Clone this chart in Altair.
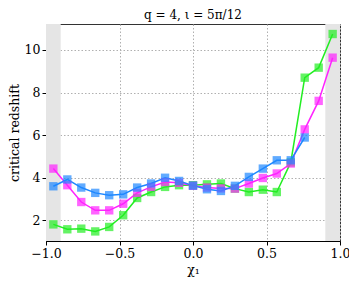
import altair as alt
import pandas as pd

chi = [round(-0.95 + 0.095 * k, 3) for k in range(21)]

blue = [3.60, 3.92, 3.54, 3.29, 3.18, 3.22, 3.54, 3.73, 4.00, 3.85, 3.63,
        3.46, 3.38, 3.62, 4.04, 4.43, 4.82, 4.82, 5.89]
magenta = [4.43, 3.65, 2.86, 2.47, 2.47, 2.78, 3.29, 3.57, 3.80, 3.76, 3.62,
           3.54, 3.50, 3.49, 3.73, 3.99, 4.20, 4.67, 6.27, 7.61, 9.64]
green = [1.81, 1.58, 1.61, 1.48, 1.69, 2.24, 3.05, 3.33, 3.57, 3.65, 3.65,
         3.69, 3.73, 3.49, 3.33, 3.44, 3.33, 4.72, 8.70, 9.17, 10.75]

series_names = ["green", "magenta", "blue"]
series_colors = ["#22ee22", "#ff22ff", "#1e88ff"]

rows = []
for name, vals in [("green", green), ("magenta", magenta), ("blue", blue)]:
    for i, v in enumerate(vals):
        rows.append({"chi": chi[i], "z": v, "s": name, "o": series_names.index(name)})
df = pd.DataFrame(rows)

shade = pd.DataFrame({"x0": [-1.0, 0.9], "x1": [-0.9, 1.0]})

font = "DejaVu Serif"
xs = alt.Scale(domain=[-1, 1], nice=False)
ys = alt.Scale(domain=[1.03, 11.22], nice=False, zero=False)
cs = alt.Scale(domain=series_names, range=series_colors)

bands = alt.Chart(shade).mark_rect(color="#e5e5e5").encode(
    x=alt.X("x0:Q", scale=xs),
    x2="x1:Q",
)

lines = alt.Chart(df).mark_line(strokeWidth=1.5).encode(
    x=alt.X("chi:Q", scale=xs,
            axis=alt.Axis(title="χ₁", values=[-1, -0.5, 0, 0.5, 1], format=".1f",
                          labelFlush=False,
                          grid=True, gridDash=[1.5, 2], gridColor="#b0b0b0")),
    y=alt.Y("z:Q", scale=ys,
            axis=alt.Axis(title="critical redshift", values=[2, 4, 6, 8, 10],
                          grid=True, gridDash=[1.5, 2], gridColor="#b0b0b0")),
    color=alt.Color("s:N", scale=cs, legend=None),
    order="o:Q",
)

points = alt.Chart(df).mark_point(shape="square", filled=True, size=70, opacity=0.7).encode(
    x=alt.X("chi:Q", scale=xs),
    y=alt.Y("z:Q", scale=ys),
    color=alt.Color("s:N", scale=cs, legend=None),
)

chart = alt.layer(bands, lines, points).properties(
    width=294, height=217,
    title=alt.TitleParams("q = 4,  ι = 5π/12", font=font, fontSize=12,
                          fontWeight="normal", color="black", offset=2),
    autosize=alt.AutoSizeParams(type="none"),
    padding={"left": 38, "top": 16, "right": 9, "bottom": 38},
).configure_axis(
    labelFont=font, titleFont=font, labelFontSize=12.5, titleFontSize=12.5,
    titleFontWeight="normal", labelColor="black", titleColor="black",
    domainColor="black", tickColor="black", tickSize=4,
).configure_axisX(titlePadding=4).configure_axisY(titlePadding=3).configure_view(
    stroke="#333333", strokeWidth=1
)

chart.save("out.html", embed_options={"renderer": "svg", "actions": False})
